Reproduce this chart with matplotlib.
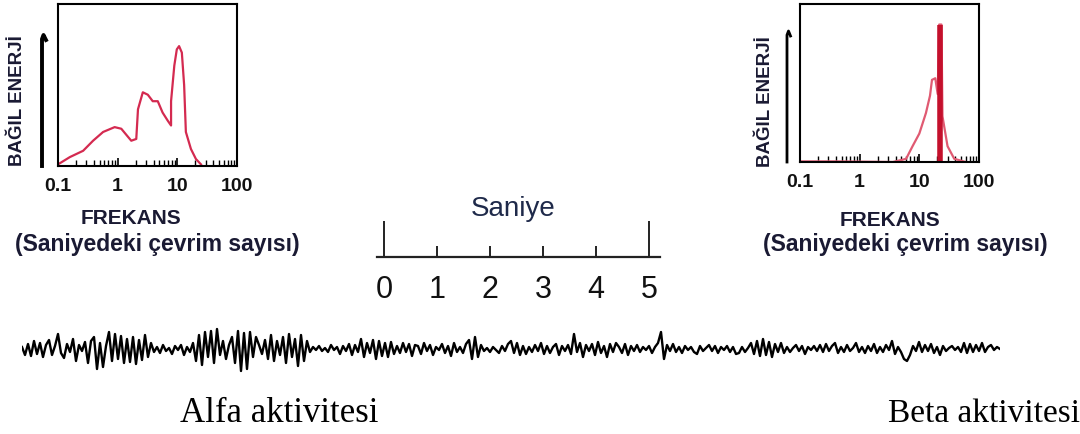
import numpy as np
import matplotlib
matplotlib.use("Agg")
import matplotlib.pyplot as plt
from matplotlib.lines import Line2D

plt.rcParams['font.family'] = ['Liberation Sans', 'DejaVu Sans']

# ---------------------------------------------------------------- data
# alpha spectrum (left): frequency (Hz), relative energy (fraction of box)
alpha_f = [0.1, 0.158, 0.264, 0.387, 0.57, 0.89, 1.15, 1.49, 1.69, 2.05,
           2.19, 2.64, 3.2, 3.87, 4.7, 5.66, 6.9, 7.85, 7.85, 8.9, 9.8,
           10.7, 11.9, 13.0, 13.9, 16.9, 20.5, 24.9]
alpha_e = [0.01, 0.055, 0.094, 0.156, 0.21, 0.24, 0.23, 0.18, 0.156, 0.167,
           0.35, 0.455, 0.44, 0.40, 0.40, 0.33, 0.28, 0.25, 0.40, 0.62, 0.72,
           0.74, 0.70, 0.50, 0.21, 0.105, 0.043, 0.01]

# beta spectrum (right)
beta_f = [0.1, 0.4, 3.6, 6.0, 7.7, 10.0, 12.9, 15.1, 16.3, 18.5, 20.3,
          21.5, 23.5, 24.4, 29.7, 38.5, 60.0]
beta_e = [0.004, 0.004, 0.0, 0.02, 0.10, 0.18, 0.31, 0.42, 0.52, 0.53, 0.43,
          0.87, 0.87, 0.29, 0.10, 0.02, 0.0]
beta_peak_f = 22.5
beta_peak_e = 0.87

freq_ticks = [0.1, 1, 10, 100]
freq_labels = ["0.1", "1", "10", "100"]

# time scale bar (seconds)
scale_sec = [0, 1, 2, 3, 4, 5]
scale_labels = ["0", "1", "2", "3", "4", "5"]

# EEG trace, deflection in pixels (up positive), one sample every 3 px
eeg = [
    2, -6, 5, -7, 8, -5, 6, -8, 4, 9, -6, 3, 15, -4, -9, 5, -3, 10, -12, 4,
    -2, 7, -14, 8, 12, -20, 6, -18, 3, 17, -12, 15, -10, 13, -14, 10, -13, 12,
    -15, 9, -11, 14, -8, 6, -3, 2, -4, 4, -2, 1, -5, 3, -1, 4, -6, 2, -3, 6,
    -12, 14, -16, 17, -8, 18, -14,
    20, -6, 8, -10, 4, 12, -14, 18, -22, 16, -20, 17, -8, 12, 4, -5, 9, -10,
    14, -12, 8, -6, 12, -14, 15, -8, 10, -17, 14, -12, 8, -3, 2, -1, 3, -2, 1,
    -3, 4, -1, 2, -5, 3, -2, 5, -6, 4, -3, 10, -8, 6, -4, 9, -10, 8, -7, 6,
    -8, 7, -5, 3, -4, 6, -3, 5, -7, 4,
    3, -5, 6, -2, 4, -6, 2, -1, 5, -4, 3, -7, 6, -3, 2, -4, 5, 9, -10, 12,
    -8, 4, -2, 1, -3, 2, -1, -4, 3, -2, 5, 8, -4, 6, -6, 3, -5, 2, -3, 4, -2,
    6, -5, 3, -4, 2, 5, -6, 3, -2, 4, -5, 15, -3, 6, -8, 4, -2, 5, -6, 7, -4,
    3, -8, 5, -3, 6,
    2, -4, 5, -6, 3, -2, 4, -3, 2, -1, 3, -4, 2, 6, 17, -10, 4, -2, 5, -3, 2,
    -4, 3, -1, 2, -3, -5, 3, -2, 1, 4, -2, 3, -4, 2, -1, 3, -3, 2, -5, -4, 2,
    -3, 1, 6, -5, 8, -7, 10, -6, 7, -8, 5, -3, 6, -4, 2, -3, 1, 4, -2, 3, -5,
    2, -1, 3, -2,
    4, -3, 5, -2, 3, 6, -4, 2, -3, 4, -2, 1, 6, -3, 2, -4, 3, -2, 5, -4, 2,
    -3, 4, -1, 8, -5, 2, -3, -10, -12, -6, 3, -2, 7, -3, 4, -2, 5, -4, 2, -6,
    3, -2, 1, 3, -1, 2, -3, 6, -4, 5, -3, 4, -2, 6, -3, 2, 4, -1, 2, 0,
]
eeg_dt = 3 / 53.0   # 53 px per second on the scale bar

W, H = 1080, 435
fig = plt.figure(figsize=(W / 100, H / 100), dpi=100)


def rect(x0, y0, x1, y1):
    return [x0 / W, 1 - y1 / H, (x1 - x0) / W, (y1 - y0) / H]


def fxy(x, y):
    return x / W, 1 - y / H


INK = "#1a1a33"


def spectrum(box, f, e, color):
    ax = fig.add_axes(box)
    ax.plot(f, e, color=color, lw=1.6, solid_joinstyle="round")
    ax.set_xscale("log")
    ax.set_xlim(0.1, 100)
    ax.set_ylim(0, 1)
    ax.set_yticks([])
    ax.set_xticks(freq_ticks)
    ax.set_xticklabels(freq_labels, fontsize=14, fontweight="bold",
                       color="#111111")
    ax.tick_params(axis="x", which="major", direction="in", length=6,
                   width=1.2, pad=8)
    ax.tick_params(axis="x", which="minor", direction="in", length=4,
                   width=1.0)
    for s in ax.spines.values():
        s.set_linewidth(1.5)
    return ax


# ----- left spectrum (alpha)
axl = spectrum(rect(58, 5, 237, 167), alpha_f, alpha_e, "#d42a50")
fig.text(*fxy(18, 101), "BAĞIL ENERJİ", rotation=90, ha="center",
         va="center", fontsize=13.5, fontweight="bold", color=INK)
fig.add_artist(Line2D([42 / W, 42 / W, 43.5 / W, 46 / W],
                      [1 - 167 / H, 1 - 40 / H, 1 - 36 / H, 1 - 41 / H],
                      color="black", lw=2.8))
fig.text(*fxy(131, 219), "FREKANS", ha="center", va="center", fontsize=15,
         fontweight="bold", color=INK)
fig.text(*fxy(157, 245), "(Saniyedeki çevrim sayısı)", ha="center",
         va="center", fontsize=16.5, fontweight="bold", color=INK)

# ----- right spectrum (beta)
axr = spectrum(rect(800, 5, 979, 163), beta_f, beta_e, "#e05a72")
axr.vlines(beta_peak_f, 0, beta_peak_e, color="#c4102c", lw=4)
fig.text(*fxy(765, 102), "BAĞIL ENERJİ", rotation=90, ha="center",
         va="center", fontsize=13.5, fontweight="bold", color=INK)
fig.add_artist(Line2D([787 / W, 787 / W, 788.5 / W, 790.5 / W],
                      [1 - 163 / H, 1 - 36 / H, 1 - 32 / H, 1 - 37 / H],
                      color="black", lw=2.0))
fig.text(*fxy(890, 220), "FREKANS", ha="center", va="center", fontsize=15,
         fontweight="bold", color=INK)
fig.text(*fxy(905, 245), "(Saniyedeki çevrim sayısı)", ha="center",
         va="center", fontsize=16.5, fontweight="bold", color=INK)

# ----- time scale bar
sx0, sx1, sy0, sy1 = 370, 670, 195, 315
axs = fig.add_axes(rect(sx0, sy0, sx1, sy1))
axs.set_xlim((sx0 - 384) / 53.0, (sx1 - 384) / 53.0)
axs.set_ylim(0, sy1 - sy0)
axs.axis("off")
base = sy1 - 258
axs.plot([-0.13, 5.2], [base, base], color="#222222", lw=1.6)
for s in scale_sec:
    top = sy1 - 222 if s in (scale_sec[0], scale_sec[-1]) else sy1 - 247
    axs.vlines(s, base, top, color="#222222", lw=1.4)
    axs.text(s, sy1 - 290, scale_labels[s], ha="center", va="center",
             fontsize=22, color="#111111")
axs.text(2.43, sy1 - 209, "Saniye", ha="center", va="center", fontsize=20,
         color="#1f2a4a")

# ----- EEG trace
axe = fig.add_axes(rect(22, 320, 1000, 380))
t = np.arange(len(eeg)) * eeg_dt
axe.plot(t, eeg, color="black", lw=1.7)
axe.set_xlim(0, t[-1])
axe.set_ylim(-30, 30)
axe.axis("off")

fig.text(*fxy(279, 414), "Alfa aktivitesi", ha="center", va="center",
         fontsize=25, family="Liberation Serif", color="black")
fig.text(*fxy(984, 414), "Beta aktivitesi", ha="center", va="center",
         fontsize=24, family="Liberation Serif", color="black")

fig.savefig("out.png", dpi=100)
